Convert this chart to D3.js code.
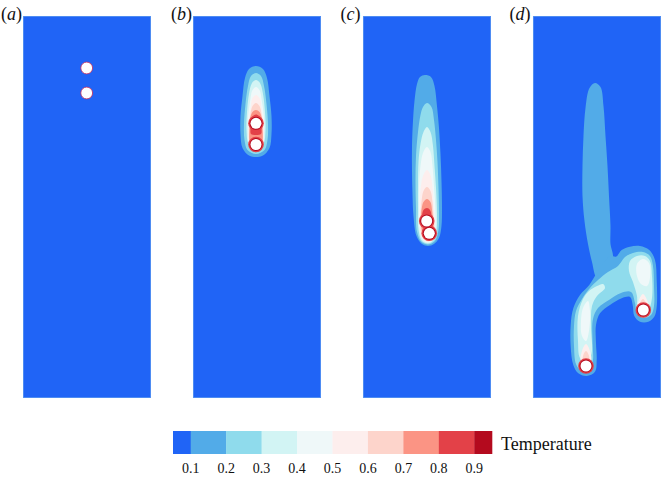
<!DOCTYPE html>
<html>
<head>
<meta charset="utf-8">
<script src="https://cdn.jsdelivr.net/npm/d3@7"></script>
<style>
body { margin: 0; background: #fff; }
svg { display: block; }
svg text { font-family: "Liberation Serif", "DejaVu Serif", serif; }
</style>
</head>
<body>
<div id="vis"></div>
<script>
// contour levels, band colours, tick labels
var levels = [0.1, 0.2, 0.3, 0.4, 0.5, 0.6, 0.7, 0.8, 0.9];
var bandColors = ["#2064f6", "#52abe8", "#8fdbec", "#d2f4f4", "#eff8f9",
                  "#fdeeed", "#fdd4cb", "#fb9484", "#e34148", "#b40a1e"];
var barEdges = [0.05, 0.1, 0.2, 0.3, 0.4, 0.5, 0.6, 0.7, 0.8, 0.9, 0.95];
var tickLabels = ["0.1", "0.2", "0.3", "0.4", "0.5", "0.6", "0.7", "0.8", "0.9"];
var panelNames = ["a", "b", "c", "d"];

// cylinder centres, grid units (128 x 382 grid, y down)
var cylinders = {
	a: [[63.7, 52], [63.7, 77]],
	b: [[63, 107.3], [63, 128.5]],
	c: [[63.7, 205], [66.3, 217.3]],
	d: [[53, 350], [110.3, 294]]
};
var cylRadius = 5.5;

// iso-lines, grid units
var contoursB = [
	{level: 0.1, pts: [[63,50],[70,53],[74,62],[76.5,80],[78.5,100],[78.5,118],[76.5,132],[70,139.5],[63,141],[56,139.5],[49.5,132],[47.5,118],[47.5,100],[49.5,80],[52,62],[56,53]]},
	{level: 0.2, pts: [[63,57],[68,60],[71,70],[73.5,88],[75,108],[74.5,124],[71.5,134],[63,138],[54.5,134],[51.5,124],[51,108],[52.5,88],[55,70],[58,60]]},
	{level: 0.3, pts: [[63,64],[67,67],[70,78],[72,96],[72.5,114],[70.5,128],[63,135.5],[55.5,128],[53.5,114],[54,96],[56,78],[59,67]]},
	{level: 0.4, pts: [[63,71],[66.5,74],[69,86],[71,102],[71,118],[69.5,129],[63,134.5],[56.5,129],[55,118],[55,102],[57,86],[59.5,74]]},
	{level: 0.5, pts: [[63,79],[66.5,82],[68.5,93],[70.5,106],[70.5,122],[69,131],[63,134],[57,131],[55.5,122],[55.5,106],[57.5,93],[59.5,82]]},
	{level: 0.6, pts: [[63,87],[66.5,90],[68.5,98],[70,110],[70,125],[68.5,132],[63,134],[57.5,132],[56,125],[56,110],[57.5,98],[59.5,90]]},
	{level: 0.7, pts: [[63,94],[66.5,96],[68.5,101],[69.5,112],[69.5,126],[67.5,133],[63,135],[58.5,133],[56.5,126],[56.5,112],[57.5,101],[59.5,96]]},
	{level: 0.8, pts: [[63,98.5],[66,100],[68,104],[68.5,112],[68,118],[63,119],[58,118],[57.5,112],[58,104],[60,100]]}
];

var contoursC = [
	{level: 0.1, pts: [[62,59],[68,61],[71.5,70],[74,90],[76,112],[77.5,138],[78.5,165],[79,192],[78.5,210],[76,222],[71,228],[65,230],[59,228],[53.5,220],[50.5,200],[49.5,178],[49,155],[49,130],[50,105],[51.5,85],[54,68],[57,61]]},
	{level: 0.2, pts: [[64,87],[68.5,91],[71,104],[73,124],[74.5,146],[75.5,172],[76,198],[75.5,214],[72,225],[65,228.5],[58.5,226],[54,216],[53,192],[52.5,165],[53,140],[55,116],[57.5,99],[60,91]]},
	{level: 0.3, pts: [[64,111],[67.5,116],[70,130],[71.5,150],[73,172],[74,198],[73.5,215],[71,224],[65,227.5],[59,225],[55.5,214],[55,192],[55,168],[55.5,146],[57.5,128],[60.5,116]]},
	{level: 0.4, pts: [[64,131],[67.5,136],[69.5,150],[71,170],[72.5,195],[72.5,213],[70.5,223],[65,226.5],[59.5,223.5],[56.5,213],[56,192],[56,170],[57.5,150],[60,137]]},
	{level: 0.5, pts: [[64,154],[67.5,159],[69.5,172],[70.5,188],[72,210],[70,222],[65.5,226],[60,223],[57,212],[57,192],[57.5,174],[60,160]]},
	{level: 0.6, pts: [[64,171],[67.5,175],[69.5,186],[70.5,200],[71.5,213],[69.5,222],[65.5,225.5],[60,222],[57.5,212],[57.5,198],[58.5,186],[60.5,175]]},
	{level: 0.7, pts: [[64,183],[67.5,186],[69,194],[70,205],[71,215],[69,222],[66,225],[61,221],[58.5,212],[58,200],[59,191],[60.5,186]]},
	{level: 0.8, pts: [[64,192],[67,194],[68.5,200],[68,208],[63.7,210],[59.5,208],[59,200],[60.5,194]]}
];

var contoursD = [
	{level: 0.1, pts: [[62,67],[67.5,71],[70.5,90],[72.5,120],[74.5,150],[76,180],[77.5,210],[77.5,228],[80,242],[72,258],[64,262],[59,246],[55,228],[51.5,205],[49.5,180],[49.5,150],[50.5,120],[52.5,92],[56.5,72]]},
	{level: 0.1, pts: [[63.7,257],[70,248],[77,240],[83,240.7],[88.7,234],[97,230.7],[107,230],[116.3,234],[122,244],[123.7,264],[123.7,291],[121.3,300.7],[115.3,305.7],[107,305.7],[101.3,300],[99.7,289],[97,281],[88.7,282.3],[77,289],[67,297.3],[63,309],[63,327],[63.7,344],[62,355.7],[53.7,360],[45.3,357.3],[40.3,349],[37.7,330.7],[37.7,309],[40.3,292.3],[47,279],[56.3,269]]},
	{level: 0.2, pts: [[57,272],[65,264],[75,256],[85,250],[92,241],[100,237],[110,236],[117,240],[120,250],[121,270],[121,290],[118,299],[110,302],[104,298],[102,287],[98,276],[88,277],[76,284],[65,292],[60,303],[59.5,325],[60,344],[57,354],[53,357],[48,355],[43,348],[41,330],[41,310],[43,295],[49,283]]},
	{level: 0.3, pts: [[50,283],[56,275],[64,270],[70,268],[72,272],[64,280],[59,290],[58,310],[58.5,338],[53,346],[47,342],[45,325],[45,300]]},
	{level: 0.3, pts: [[97,245],[104,240],[112,240],[117,245],[119,260],[119,282],[116,292],[110,293],[105,292],[104,280],[100,266],[96,255]]},
	{level: 0.4, pts: [[50,292],[55,285],[57,295],[56,315],[53,325],[49,320],[48,305]]},
	{level: 0.4, pts: [[104,248],[110,243],[116,247],[117,262],[114,270],[108,268],[104,260]]},
	{level: 0.5, pts: [[53,328],[57,335],[58,345],[53,347],[48,345],[49,335]]},
	{level: 0.5, pts: [[110,278],[114,284],[116,292],[110,294],[104,292],[106,284]]},
	{level: 0.6, pts: [[53,335],[56,340],[56,346],[50,346],[50,340]]},
	{level: 0.6, pts: [[110,283],[113,287],[114,292],[106,292],[107,287]]}
];

var contours = { a: [], b: contoursB, c: contoursC, d: contoursD };

function gen_vis()
{
	var w = 664, h = 482;
	var panelTop = 16, panelW = 128, panelH = 382;

	var svg = d3.select("#vis")
		.append("svg")
		.attr("width", w)
		.attr("height", h);

	var px = d3.scaleBand().domain(panelNames).range([23, 661]).paddingInner(0.247);
	var gx = d3.scaleLinear().domain([0, 128]).range([0, panelW]);
	var gy = d3.scaleLinear().domain([0, 382]).range([0, panelH]);
	var color = d3.scaleThreshold().domain(levels).range(bandColors);

	var line = d3.line()
		.x(function(d){ return gx(d[0]); })
		.y(function(d){ return gy(d[1]); })
		.curve(d3.curveCatmullRomClosed.alpha(0.5));

	var defs = svg.append("defs");
	defs.append("clipPath").attr("id", "panelClip")
		.append("rect").attr("width", panelW).attr("height", panelH);

	var panels = svg.selectAll("g.panel")
		.data(panelNames)
		.enter()
		.append("g")
		.attr("class", "panel")
		.attr("transform", function(d){ return "translate(" + px(d) + "," + panelTop + ")"; });

	panels.append("rect")
		.attr("width", panelW)
		.attr("height", panelH)
		.attr("fill", bandColors[0]);

	var inner = panels.append("g").attr("clip-path", "url(#panelClip)");

	inner.each(function(name){
		var g = d3.select(this);
		var cs = contours[name].slice().sort(function(p, q){ return p.level - q.level; });
		g.selectAll("path.iso")
			.data(cs)
			.enter()
			.append("path")
			.attr("class", "iso")
			.attr("d", function(d){ return line(d.pts); })
			.attr("fill", function(d){ return color(d.level); });

		var cyl = cylinders[name];
		if (name != "a")
		{
			// hot rim round each cylinder
			g.selectAll("circle.rim1").data(cyl).enter().append("circle")
				.attr("cx", function(d){ return gx(d[0]); })
				.attr("cy", function(d){ return gy(d[1]); })
				.attr("r", gx(cylRadius + 2.3))
				.attr("fill", color(0.8));
			g.selectAll("circle.rim2").data(cyl).enter().append("circle")
				.attr("cx", function(d){ return gx(d[0]); })
				.attr("cy", function(d){ return gy(d[1]); })
				.attr("r", gx(cylRadius + 1))
				.attr("fill", color(0.9));
		}
		g.selectAll("circle.cyl").data(cyl).enter().append("circle")
			.attr("class", "cyl")
			.attr("cx", function(d){ return gx(d[0]); })
			.attr("cy", function(d){ return gy(d[1]); })
			.attr("r", gx(name == "a" ? cylRadius + 0.4 : cylRadius))
			.attr("fill", "#fff")
			.attr("stroke", name == "a" ? "#c42a5c" : "none")
			.attr("stroke-width", 0.8);
	});

	panels.append("rect")
		.attr("x", 0.4).attr("y", 0.4)
		.attr("width", panelW - 0.8)
		.attr("height", panelH - 0.8)
		.attr("fill", "none")
		.attr("stroke", "#5a97f2")
		.attr("stroke-width", 0.8);

	var lab = panels.append("text")
		.attr("x", function(d, i){ return i < 2 ? -1 : -2.5; })
		.attr("y", 3.5)
		.attr("text-anchor", "end")
		.attr("font-size", 18)
		.attr("fill", "#111");
	lab.append("tspan").text("(");
	lab.append("tspan").attr("font-style", "italic").text(function(d){ return d; });
	lab.append("tspan").text(")");

	// colour bar
	var cb = d3.scaleLinear().domain([0.05, 0.95]).range([173, 492]);
	var cells = d3.pairs(barEdges);
	svg.selectAll("rect.cell")
		.data(cells)
		.enter()
		.append("rect")
		.attr("class", "cell")
		.attr("x", function(d){ return cb(d[0]); })
		.attr("width", function(d){ return cb(d[1]) - cb(d[0]) + 0.3; })
		.attr("y", 431)
		.attr("height", 23)
		.attr("fill", function(d, i){ return bandColors[i]; });

	svg.selectAll("text.tick")
		.data(levels)
		.enter()
		.append("text")
		.attr("class", "tick")
		.attr("x", function(d){ return cb(d); })
		.attr("y", 473)
		.attr("text-anchor", "middle")
		.attr("font-size", 14)
		.attr("fill", "#111")
		.text(function(d, i){ return tickLabels[i]; });

	svg.append("text")
		.attr("x", 501)
		.attr("y", 449.5)
		.attr("font-size", 18)
		.attr("fill", "#111")
		.text("Temperature");
}

gen_vis();
</script>
</body>
</html>
